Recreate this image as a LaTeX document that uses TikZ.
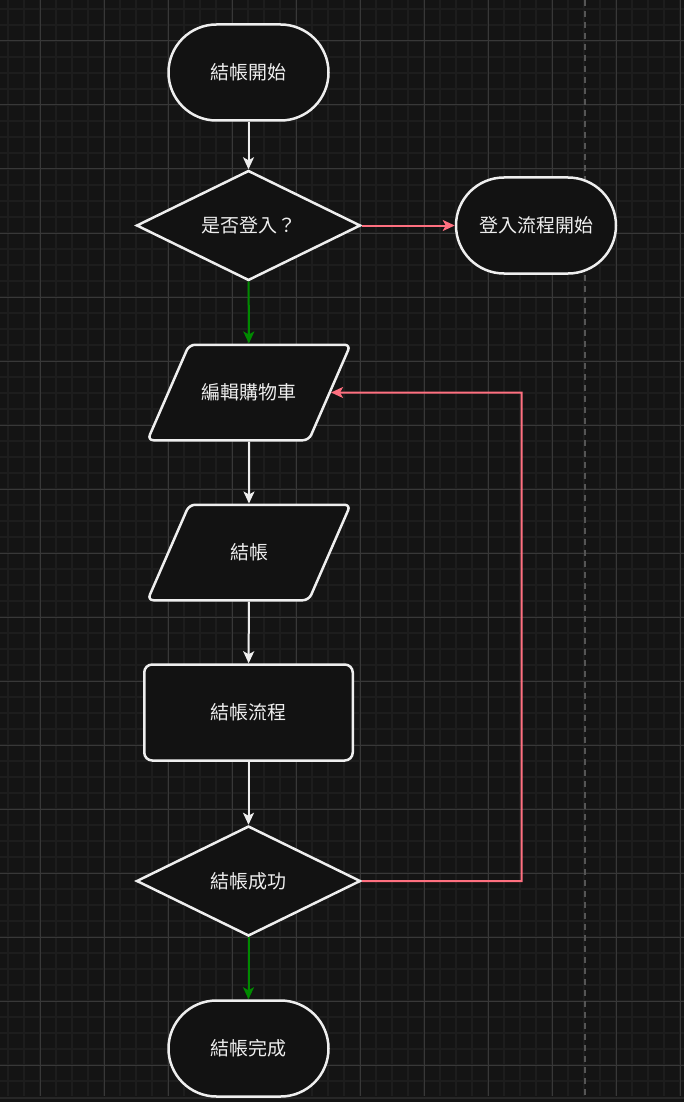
\documentclass[tikz,border=0pt]{standalone}
\usepackage{fontspec}
\newfontfamily\cjk{Noto Sans CJK TC}
\usetikzlibrary{shapes.geometric,arrows.meta,positioning}
\definecolor{bgdark}{HTML}{141414}
\definecolor{nodefill}{HTML}{121212}
\definecolor{edgewhite}{HTML}{EEEEEE}
\definecolor{nored}{HTML}{FF7080}
\definecolor{yesgreen}{HTML}{008A00}
\definecolor{gridminor}{HTML}{1D1D1D}
\definecolor{gridmajor}{HTML}{383838}
\definecolor{dashgray}{HTML}{555555}

\begin{document}
\begin{tikzpicture}[x=1pt,y=-1pt,->,>={Stealth[length=12pt,width=11pt,inset=3pt]},
  base node/.style={draw=edgewhite,fill=nodefill,line width=2.5pt,text=edgewhite,
    font=\cjk\fontsize{19}{23}\selectfont,inner sep=0pt},
  term node/.style={base node,rectangle,rounded corners=48pt,minimum width=160pt,minimum height=96pt},
  dec node/.style={base node,diamond,aspect=2.05,minimum width=224pt,minimum height=110pt},
  io node/.style={base node,trapezium,trapezium left angle=66,trapezium right angle=114,
    trapezium stretches body=true,inner ysep=38pt,rounded corners=6pt,minimum width=203pt,minimum height=95.5pt},
  proc node/.style={base node,rectangle,rounded corners=8pt,minimum width=208.5pt,minimum height=96pt},
  flow/.style={color=edgewhite,line width=2pt}]

% background and grid
  \useasboundingbox (0,0) rectangle (684,1102);
  \fill[bgdark] (0,0) rectangle (684,1102);
  \foreach \gx in {8,24,...,680} \draw[-,gridminor,line width=1.5pt] (\gx,0) -- (\gx,1096);
  \foreach \gy in {9,25,...,1090} \draw[-,gridminor,line width=1.5pt] (0,\gy) -- (684,\gy);
  \foreach \gx in {40,104,...,680} \draw[-,gridmajor,line width=1pt] (\gx,0) -- (\gx,1096);
  \foreach \gy in {41,105,...,1090} \draw[-,gridmajor,line width=1pt] (0,\gy) -- (684,\gy);
  \fill[gridmajor!70!black] (0,1096.5) rectangle (684,1099);
  \draw[-,dashgray,line width=1.5pt,dash pattern=on 6pt off 5pt] (585,0) -- (585,1096);

% nodes
  \node[term node] (start) at (248.5,72.5) {結帳開始};
  \node[dec node] (login) at (248.5,225.5) {是否登入？};
  \node[term node] (loginflow) [right=93pt of login] {登入流程開始};
  \node[io node] (editcart) at (249,392.5) {編輯購物車};
  \node[io node] (checkout) at (249,552.5) {結帳};
  \node[proc node] (process) at (248.5,712.5) {結帳流程};
  \node[dec node] (success) at (248.5,881) {結帳成功};
  \node[term node] (done) at (248.5,1048.5) {結帳完成};

% connectors
  \path[flow]
    (start) edge (login)
    (editcart) edge (checkout)
    (checkout) edge (process)
    (process) edge (success)
    (login) edge [yesgreen] (editcart)
    (success) edge [yesgreen] (done)
    (login) edge [nored] (loginflow);

  \coordinate (back) at (521.5,392.5);
  \draw[flow,nored] (success.east) -| (back) -- (editcart.east);

\end{tikzpicture}
\end{document}
